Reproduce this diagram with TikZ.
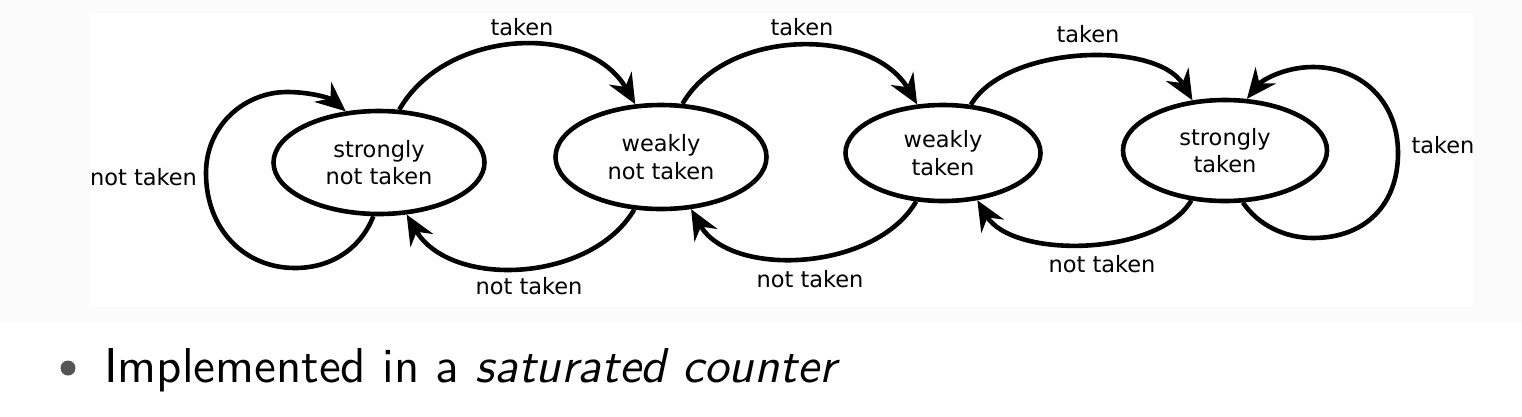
\documentclass[tikz,border=0pt]{standalone}
\usepackage{fontspec}
\newfontfamily\diagrammschrift{DejaVu Sans}
\newfontfamily\folienschrift{lmsans10-regular.otf}[ItalicFont=lmsans10-oblique.otf]
\usetikzlibrary{positioning,shapes.geometric,arrows.meta}
\newcommand{\nodedistance}{282pt}
\definecolor{folienhg}{gray}{0.985}
\definecolor{punktgrau}{gray}{0.33}
\begin{document}
\begin{tikzpicture}[
	x = 1pt,% 1 Pixel der Vorlage
	y = -1pt,% y-Achse nach unten (wie Pixel)
	auto,
	on grid,
	node distance=\nodedistance,
	every node/.style = {font=\diagrammschrift\fontsize{22.5}{27.3}\selectfont},
	zustand/.style = {ellipse, draw, line width=4.6pt, align=center, inner sep=0pt},
	>={Stealth[length=30pt, width=26pt, inset=10pt]},
	kante/.style = {line width=4.6pt, ->},
	beschr/.style = {inner sep=0pt}
]
%
\useasboundingbox (0,0) rectangle (1522,416);
\fill[folienhg] (0,0) rectangle (1522,323);
\fill[white] (90,13) rectangle (1473,307);
%
\node(z_snt)%
    [zustand, minimum width=211pt, minimum height=103pt]%
    at (379,162.5)%
    {strongly\\not taken};%
\node(z_wnt)%
    [zustand, minimum width=211pt, minimum height=104pt, right=of z_snt, yshift=5.5pt]%
    {weakly\\not taken};%
\node(z_wt)%
    [zustand, minimum width=195pt, minimum height=96pt, right=of z_wnt, yshift=4pt]%
    {weakly\\taken};%
\node(z_st)%
    [zustand, minimum width=204pt, minimum height=101pt, right=of z_wt, yshift=2.5pt]%
    {strongly\\taken};%
%
% taken
\draw[kante] (z_snt.69) .. controls (446,28) and (588,22) .. (z_wnt.116);
\draw[kante] (z_wnt.68) .. controls (727,27) and (872,27) .. (z_wt.118);
\draw[kante] (z_wt.60) .. controls (1006,45) and (1157,40) .. (z_st.123);
\draw[kante] (z_st.-71) .. controls (1258,225) and (1285,238) .. (1313,238)%
    .. controls (1365,238) and (1398,205) .. (1398,153)%
    .. controls (1398,100) and (1360,67) .. (1313,67)%
    .. controls (1285,67) and (1262,80) .. (z_st.67);
%
% not taken
\draw[kante] (z_wnt.-117) .. controls (591,283) and (450,289) .. (z_snt.-62);
\draw[kante] (z_wt.-119) .. controls (875,272) and (730,278) .. (z_wnt.-60);
\draw[kante] (z_st.-124) .. controls (1158,257) and (1012,259) .. (z_wt.-54);
\draw[kante] (z_snt.-96) .. controls (360,250) and (330,268) .. (295,268)%
    .. controls (245,268) and (206,230) .. (206,173)%
    .. controls (206,125) and (245,92) .. (287,92)%
    .. controls (310,92) and (330,98) .. (z_snt.123);
%
\node(l_t_1)[beschr] at (522,27) {taken};%
\node(l_t_2)[beschr] at (802,27) {taken};%
\node(l_t_3)[beschr] at (1088,34) {taken};%
\node(l_t_4)[beschr] at (1443,145) {taken};%
\node(l_nt_1)[beschr] at (143.5,177) {not taken};%
\node(l_nt_2)[beschr] at (529,286) {not taken};%
\node(l_nt_3)[beschr] at (810,279) {not taken};%
\node(l_nt_4)[beschr] at (1102,264) {not taken};%
%
\node(punkt)%
    [circle, fill=punktgrau, inner sep=0pt, minimum size=15pt]%
    at (68,368)%
    {};%
\node(satz)%
    [anchor=base west, inner sep=0pt, font=\folienschrift\fontsize{49}{60}\selectfont]%
    at (104,382)%
    {Implemented in a \emph{saturated counter}};%
%
\end{tikzpicture}
\end{document}
